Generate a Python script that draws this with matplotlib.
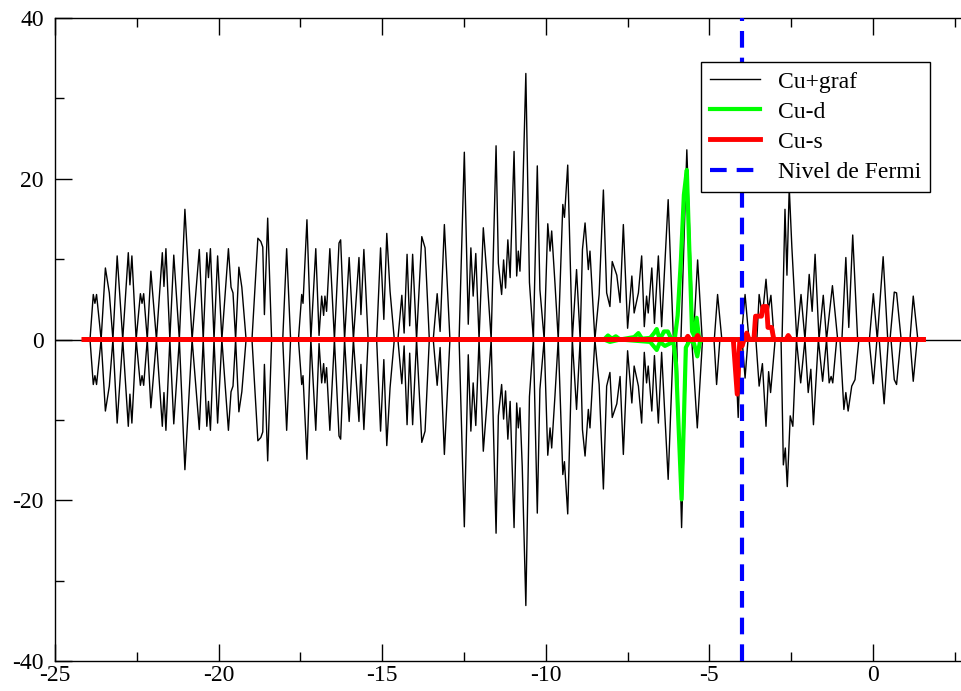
import numpy as np
import matplotlib
matplotlib.use('Agg')
import matplotlib.pyplot as plt
from matplotlib.ticker import MultipleLocator

plt.rcParams['font.family'] = ['Liberation Serif', 'DejaVu Serif']
plt.rcParams['axes.unicode_minus'] = False

# Cu+graf, spin up (the spin down curve is the mirror of it below about -6.1 eV)
graf_up = [
    (-23.93, 0), (-23.83, 5.6), (-23.78, 4.5), (-23.73, 5.6), (-23.59, 0),
    (-23.46, 8.9), (-23.34, 5.8), (-23.23, 0),
    (-23.10, 10.4), (-22.93, 0),
    (-22.76, 10.8), (-22.71, 6.8), (-22.65, 10.4), (-22.52, 0),
    (-22.39, 5.7), (-22.34, 4.5), (-22.29, 5.7), (-22.18, 0),
    (-22.07, 8.5), (-21.90, 0),
    (-21.72, 10.8), (-21.67, 6.6), (-21.61, 11.3), (-21.49, 0),
    (-21.37, 10.5), (-21.20, 0),
    (-21.03, 16.2), (-20.81, 0),
    (-20.59, 11.2), (-20.47, 0),
    (-20.36, 10.8), (-20.31, 7.7), (-20.25, 11.3), (-20.14, 0),
    (-20.03, 10.4), (-19.90, 0),
    (-19.70, 11.3), (-19.62, 6.5), (-19.56, 5.8), (-19.48, 0),
    (-19.38, 9.0), (-19.29, 6.5), (-19.16, 0), (-18.98, 0),
    (-18.80, 12.6), (-18.71, 12.2), (-18.65, 11.5), (-18.60, 3.1), (-18.50, 15.1), (-18.38, 0),
    (-18.04, 0), (-17.92, 11.3), (-17.80, 0),
    (-17.56, 0), (-17.46, 5.6), (-17.42, 4.5), (-17.30, 14.9), (-17.18, 0),
    (-17.03, 11.3), (-16.93, 0.5), (-16.85, 5.4), (-16.79, 3.0), (-16.75, 5.4), (-16.70, 3.5),
    (-16.60, 11.3), (-16.46, 0),
    (-16.32, 12.0), (-16.27, 12.4), (-16.15, 0),
    (-16.01, 10.2), (-15.88, 0),
    (-15.71, 10.2), (-15.65, 3.1), (-15.56, 11.2), (-15.43, 0),
    (-15.17, 0), (-15.05, 11.4), (-14.95, 2.5), (-14.86, 13.2), (-14.76, 6.0), (-14.63, 0),
    (-14.52, 0), (-14.40, 5.5), (-14.33, 0.8), (-14.24, 10.6), (-14.16, 1.7), (-14.07, 10.6), (-13.95, 0),
    (-13.79, 12.8), (-13.69, 11.4), (-13.56, 0),
    (-13.44, 0), (-13.32, 5.7), (-13.23, 1.0), (-13.10, 14.3), (-12.93, 0),
    (-12.65, 0), (-12.49, 23.3), (-12.37, 1.9), (-12.29, 11.4), (-12.22, 5.4), (-12.14, 10.7), (-12.04, 0),
    (-11.91, 13.9), (-11.80, 8.0), (-11.67, 0),
    (-11.52, 24.1), (-11.45, 9.5), (-11.35, 5.6), (-11.29, 9.9), (-11.23, 6.4), (-11.16, 12.4),
    (-11.09, 7.7), (-10.97, 23.4), (-10.89, 7.9), (-10.84, 11.0), (-10.79, 8.5), (-10.72, 15.8),
    (-10.61, 33.1), (-10.50, 7.1), (-10.38, 0),
    (-10.26, 21.6), (-10.18, 6.2), (-10.05, 0),
    (-9.94, 14.4), (-9.87, 11.0), (-9.82, 13.5), (-9.72, 7.0), (-9.62, 0),
    (-9.48, 16.8), (-9.43, 15.2), (-9.33, 21.7), (-9.19, 0),
    (-9.06, 8.7), (-8.95, 0),
    (-8.88, 11.2), (-8.80, 14.5), (-8.70, 8.7), (-8.65, 11.0), (-8.50, 0),
    (-8.37, 5.6), (-8.24, 18.6), (-8.14, 5.8), (-8.04, 4.1), (-7.97, 9.7), (-7.83, 8.0),
    (-7.73, 4.6), (-7.63, 14.3), (-7.50, 1.4), (-7.37, 7.9), (-7.30, 3.3), (-7.17, 5.8),
    (-7.07, 10.4), (-6.99, 1.6), (-6.92, 5.4), (-6.87, 3.3), (-6.76, 8.9), (-6.68, 2.0),
    (-6.56, 10.4), (-6.46, 1.6), (-6.26, 17.4), (-6.10, 0),
    (-5.87, 0), (-5.69, 23.6), (-5.49, 0), (-5.36, 9.9), (-5.22, 0),
    (-4.85, 0), (-4.75, 5.6), (-4.62, 0),
    (-4.03, 0), (-3.91, 5.6), (-3.79, 0),
    (-3.55, 0), (-3.48, 5.6), (-3.38, 2.9), (-3.27, 7.5), (-3.20, 3.7), (-3.12, 5.5), (-3.02, 0),
    (-2.78, 0), (-2.69, 16.2), (-2.63, 8.0), (-2.56, 18.9), (-2.48, 11.5), (-2.33, 0),
    (-2.20, 5.6), (-2.08, 0), (-1.95, 8.1), (-1.86, 3.5), (-1.77, 10.6), (-1.65, 0),
    (-1.52, 5.5), (-1.42, 0), (-1.24, 6.7), (-1.08, 0),
    (-0.95, 0), (-0.83, 10.2), (-0.74, 1.5), (-0.62, 13.0), (-0.47, 0),
    (-0.11, 0), (0.01, 5.7), (0.13, 0), (0.31, 10.3), (0.45, 0),
    (0.52, 0), (0.65, 5.9), (0.72, 5.8), (0.86, 0), (1.13, 0), (1.23, 5.4), (1.37, 0),
]

# Cu+graf, spin down above -6.1 eV
graf_dn_right = [
    (-6.00, 0), (-5.85, -23.4), (-5.69, 0), (-5.54, 0), (-5.37, -11.0), (-5.21, 0),
    (-4.86, 0), (-4.78, -5.6), (-4.68, 0),
    (-4.22, 0), (-4.12, -9.7), (-4.04, 0), (-4.00, 0), (-3.91, -4.8), (-3.82, 0),
    (-3.58, 0), (-3.48, -5.8), (-3.38, -3.0), (-3.27, -10.8), (-3.19, -4.0), (-3.13, -6.6), (-2.99, 0),
    (-2.81, 0), (-2.74, -15.6), (-2.68, -13.5), (-2.62, -18.3), (-2.53, -9.5), (-2.45, -10.8), (-2.34, 0),
    (-2.21, -5.4), (-2.08, 0), (-1.98, -6.6), (-1.90, -3.7), (-1.82, -10.6), (-1.67, 0),
    (-1.54, -5.2), (-1.42, 0), (-1.34, -5.4), (-1.28, -4.6), (-1.23, -5.4), (-1.11, 0),
    (-1.01, 0), (-0.89, -8.7), (-0.83, -6.6), (-0.76, -8.9), (-0.65, -5.8), (-0.55, -5.0), (-0.43, 0),
    (-0.12, 0), (0.01, -5.5), (0.12, 0), (0.19, 0), (0.34, -8.0), (0.47, 0),
    (0.55, 0), (0.65, -5.0), (0.72, -5.6), (0.85, 0), (1.13, 0), (1.23, -5.2), (1.35, 0),
]

# Cu-d
cud_up = [
    (-24.11, 0), (-8.22, 0), (-8.10, 0.5), (-7.98, 0.1), (-7.86, 0.4), (-7.73, 0),
    (-7.30, 0.3), (-7.17, 0.8), (-7.06, 0.1), (-6.81, 0.2), (-6.69, 0.8), (-6.61, 1.3),
    (-6.54, 0.3), (-6.45, 0.5), (-6.39, 1.0), (-6.27, 1.0), (-6.18, 0.2), (-6.06, 0),
    (-5.97, 3.0), (-5.87, 10.0), (-5.78, 18.0), (-5.69, 21.1), (-5.62, 12.0), (-5.53, 1.0),
    (-5.47, 0.5), (-5.39, 2.7), (-5.32, 0.3), (-5.23, 0), (1.54, 0),
]
cud_dn = [
    (-24.11, 0), (-8.22, 0), (-8.04, -0.3), (-7.73, 0), (-6.81, -0.3), (-6.61, -1.3),
    (-6.51, -0.3), (-6.36, -0.8), (-6.21, -0.5), (-6.11, 0), (-6.02, -3.0), (-5.93, -12.0),
    (-5.85, -19.9), (-5.78, -10.0), (-5.72, -1.0), (-5.59, 0), (-5.47, -0.5), (-5.37, -2.1),
    (-5.29, -0.3), (-5.20, 0), (1.54, 0),
]

# Cu-s
cus_up = [
    (-24.11, 0), (-5.72, 0), (-5.66, 0.4), (-5.60, 0), (-5.42, 0), (-5.36, 0.5), (-5.30, 0),
    (-3.91, 0), (-3.86, 0.8), (-3.79, 0), (-3.64, 0), (-3.59, 2.9), (-3.41, 2.9),
    (-3.36, 4.1), (-3.25, 4.1), (-3.21, 1.5), (-3.10, 1.5), (-3.03, 0),
    (-2.66, 0), (-2.59, 0.5), (-2.51, 0), (1.54, 0),
]
cus_dn = [
    (-24.11, 0), (-4.27, 0), (-4.15, -6.8), (-4.07, 0), (-4.00, -0.8), (-3.94, 0), (1.54, 0),
]

e_fermi = -4.0

gu = np.array(graf_up)
gd = np.array(graf_dn_right)
left = gu[:, 0] <= -6.10
gdn_x = np.concatenate([gu[left, 0], gd[:, 0]])
gdn_y = np.concatenate([-gu[left, 1], gd[:, 1]])

fig = plt.figure(figsize=(9.62, 6.91), dpi=100)
ax = fig.add_axes([55 / 962, 30 / 691, 907 / 962, 643 / 691])

ax.axhline(0, color='black', lw=1.0, zorder=1)
ax.plot(gu[:, 0], gu[:, 1], color='black', lw=1.0, label='Cu+graf', zorder=2)
ax.plot(gdn_x, gdn_y, color='black', lw=1.0, zorder=2)

cu = np.array(cud_up)
cd = np.array(cud_dn)
ax.plot(cu[:, 0], cu[:, 1], color='#00ff00', lw=3, label='Cu-d', zorder=3)
ax.plot(cd[:, 0], cd[:, 1], color='#00ff00', lw=3, zorder=3)

su = np.array(cus_up)
sd = np.array(cus_dn)
ax.plot(su[:, 0], su[:, 1], color='#ff0000', lw=3.5, label='Cu-s', zorder=4)
ax.plot(sd[:, 0], sd[:, 1], color='#ff0000', lw=3.5, zorder=4)

ax.axvline(e_fermi, color='#0000ff', lw=3, dashes=(4, 2.4), label='Nivel de Fermi', zorder=5)

ax.set_xlim(-25, 2.72)
ax.set_ylim(-40, 40)
ax.xaxis.set_major_locator(MultipleLocator(5))
ax.xaxis.set_minor_locator(MultipleLocator(2.5))
ax.yaxis.set_major_locator(MultipleLocator(20))
ax.yaxis.set_minor_locator(MultipleLocator(10))
ax.tick_params(which='both', direction='in', top=True, right=False, labelsize=17, width=1.0)
ax.tick_params(which='major', length=12)
ax.tick_params(which='minor', length=6.5)
ax.tick_params(axis='x', pad=3)
ax.tick_params(axis='y', pad=8)
ax.spines['right'].set_visible(False)
for s in ['left', 'top', 'bottom']:
    ax.spines[s].set_linewidth(1.0)

leg = ax.legend(loc='upper right', bbox_to_anchor=(0.965, 0.932), borderaxespad=0,
                fontsize=17, fancybox=False, framealpha=1, edgecolor='black',
                handlelength=2.1, handletextpad=0.75, labelspacing=0.36, borderpad=0.4)
leg.get_frame().set_linewidth(1.0)
leg.set_zorder(10)

fig.savefig('out.png', dpi=100)
